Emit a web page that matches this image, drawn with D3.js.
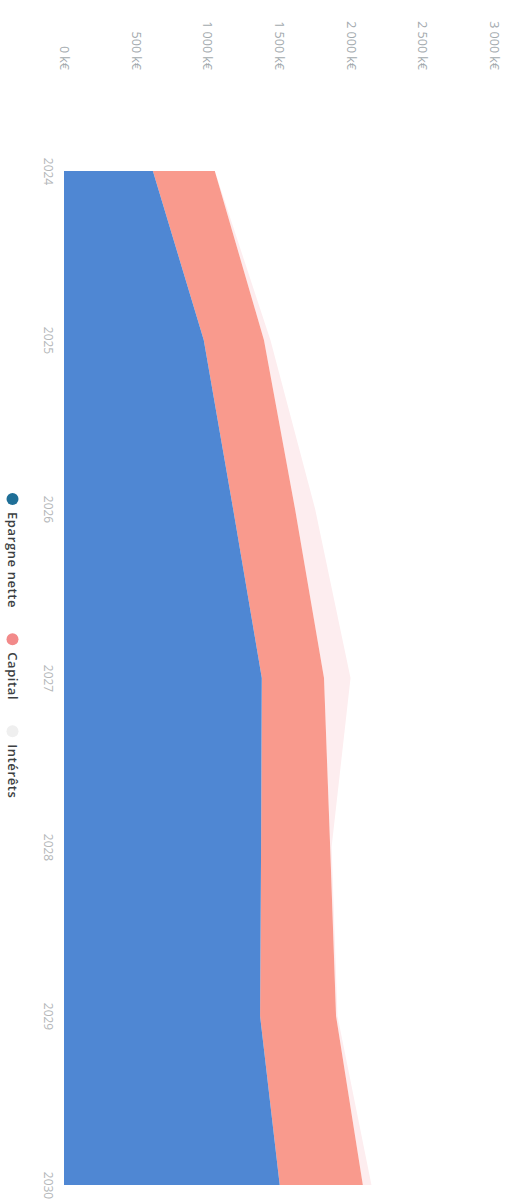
<!DOCTYPE html>
<html lang="fr">
<head>
<meta charset="utf-8">
<script src="https://cdn.jsdelivr.net/npm/d3@7"></script>
<style>
  html, body { margin: 0; padding: 0; background: #ffffff; }
  svg { display: block; }
</style>
</head>
<body>
<svg id="chart" width="511" height="1200"></svg>
<script>
// Évolution du patrimoine (k€), graphique en aires empilées, pivoté d'un quart de tour
const years = [2024, 2025, 2026, 2027, 2028, 2029, 2030];
const epargneNette = [620, 975, 1180, 1380, 1375, 1368, 1505];
const capital = [432, 420, 432, 434, 482, 530, 580];
const interets = [0, 45, 140, 185, 10, 10, 60];

const seriesNames = ["Epargne nette", "Capital", "Intérêts"];
const valueTicks = [0, 500, 1000, 1500, 2000, 2500, 3000];

const areaColors = ["#4f87d3", "#f99a8d", "#fdedef"];
const legendColors = ["#1f6f97", "#f28a8a", "#efefef"];

const rows = years.map((yr, i) => ({
  year: yr,
  "Epargne nette": epargneNette[i],
  "Capital": capital[i],
  "Intérêts": interets[i]
}));

const svg = d3.select("#chart");

// années de haut en bas, montants de gauche à droite
const t = d3.scaleLinear().domain([2024, 2030]).range([171, 1185]);
const v = d3.scaleLinear().domain([0, 3000]).range([64, 494]);

const stacked = d3.stack().keys(seriesNames)(rows);

const area = d3.area()
  .y(d => t(d.data.year))
  .x0(d => v(d[0]))
  .x1(d => v(d[1]))
  .curve(d3.curveLinear);

// les intérêts en dessous pour que leur teinte pâle ne masque rien
svg.append("g")
  .selectAll("path")
  .data(stacked.slice().reverse())
  .join("path")
  .attr("d", area)
  .attr("fill", d => areaColors[seriesNames.indexOf(d.key)]);

// axe des montants
const fr = d3.formatLocale({ decimal: ",", thousands: "\u00a0", grouping: [3], currency: ["", " €"] });
const fmt = fr.format(",");

const valueAxis = svg.append("g")
  .attr("transform", "translate(0,70)")
  .call(d3.axisTop(v).tickValues(valueTicks).tickFormat(d => fmt(d) + " k€").tickSize(0));
valueAxis.select(".domain").remove();
valueAxis.selectAll("text")
  .attr("transform", "rotate(90)")
  .attr("x", 0).attr("y", 0).attr("dy", "0.35em")
  .attr("text-anchor", "end")
  .attr("fill", "#a3aaae")
  .style("font-family", "'Open Sans', 'DejaVu Sans', sans-serif")
  .style("font-size", "12.5px");

// axe des années
const yearAxis = svg.append("g")
  .attr("transform", "translate(48,0)")
  .call(d3.axisLeft(t).tickValues(years).tickFormat(d3.format("d")).tickSize(0));
yearAxis.select(".domain").remove();
yearAxis.selectAll("text")
  .attr("transform", "rotate(90)")
  .attr("x", 0).attr("y", 0).attr("dy", "0.35em")
  .attr("text-anchor", "middle")
  .attr("fill", "#b3b6b8")
  .style("font-family", "'Open Sans', 'DejaVu Sans', sans-serif")
  .style("font-size", "12px");

// légende
const legend = svg.append("g").attr("transform", "translate(12.5,0)");
let cursor = 499;
seriesNames.forEach((name, i) => {
  legend.append("circle")
    .attr("cx", 0).attr("cy", cursor).attr("r", 6)
    .attr("fill", legendColors[i]);
  const label = legend.append("text")
    .attr("transform", `translate(0,${cursor + 13}) rotate(90)`)
    .attr("dy", "0.35em")
    .attr("fill", "#3c3f42")
    .style("font-family", "'Open Sans', 'DejaVu Sans', sans-serif")
    .style("font-size", "13px")
    .style("font-weight", "600")
    .style("letter-spacing", "0.6px")
    .text(name);
  cursor += 13 + label.node().getComputedTextLength() + 31;
});
</script>
</body>
</html>
